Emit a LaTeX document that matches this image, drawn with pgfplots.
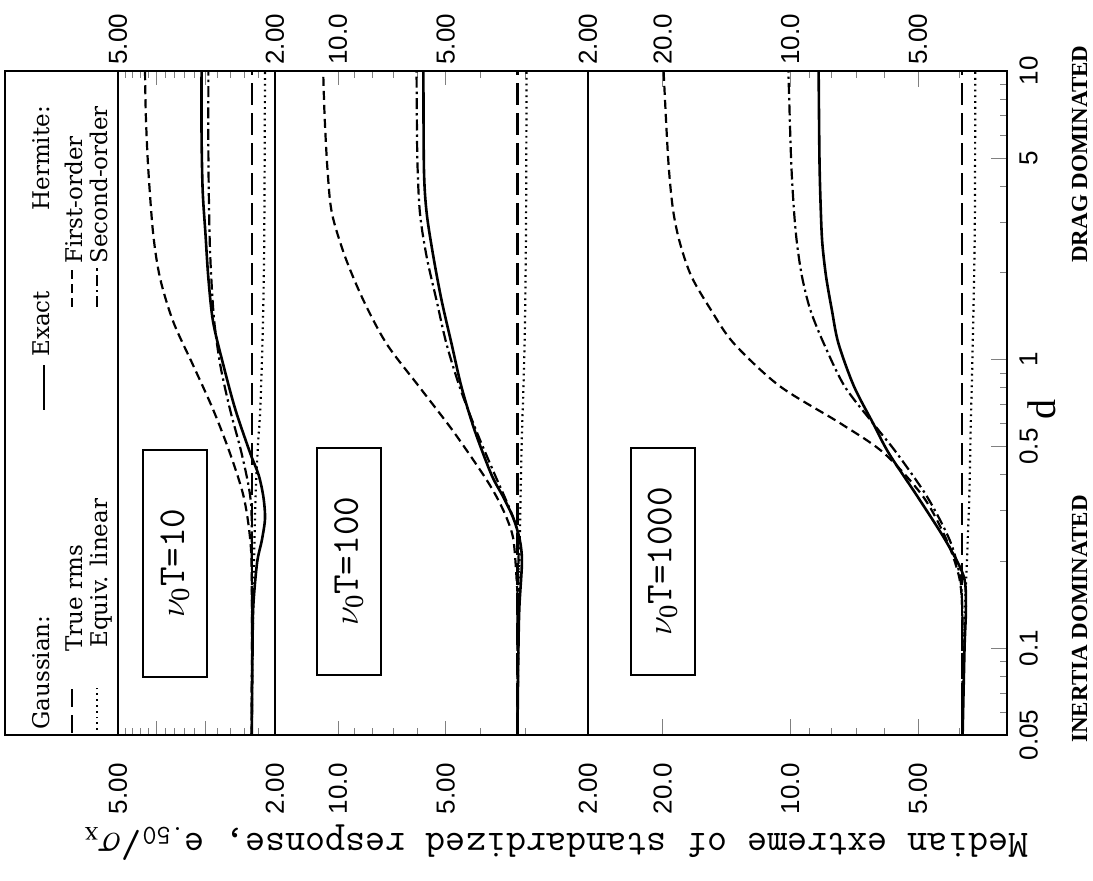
\documentclass[border=0pt]{standalone}
\usepackage{pgfplots}
\pgfplotsset{compat=1.18}
\usepackage{fontspec}
\setmainfont{Liberation Serif}
\setsansfont{Liberation Sans}
\newfontfamily\legfont{DejaVu Serif}

\tikzset{
  cExact/.style={black, line width=1.3pt},
  cTrue/.style={black, line width=1.1pt, dash pattern=on 11pt off 4pt},
  cEquiv/.style={black, line width=1.1pt, dash pattern=on 0.9pt off 2pt},
  cFirst/.style={black, line width=1.1pt, dash pattern=on 4.5pt off 2.5pt},
  cSecond/.style={black, line width=1.1pt, dash pattern=on 5.5pt off 2pt on 1.2pt off 2pt},
  cBox/.style={draw, line width=0.9pt, rotate=90, minimum width=113.5pt,
    minimum height=32pt, inner sep=0pt, font=\ttfamily\fontsize{19}{19}\selectfont},
  cLeg/.style={rotate=90, anchor=base west, inner sep=0pt,
    font=\legfont\fontsize{11.5}{11.5}\selectfont},
  cLow/.style={font=\sffamily\fontsize{13}{13}\selectfont, rotate=90, anchor=east, inner xsep=14pt},
  cUp/.style={font=\sffamily\fontsize{13}{13}\selectfont, rotate=90, anchor=west, inner xsep=3pt},
}

\begin{document}
\begin{tikzpicture}
\useasboundingbox (-59pt,-73pt) rectangle (487.5pt,367.5pt);

% nu0 T = 10
\begin{axis}[scale only axis, width=78.5pt, height=332pt, at={(39.25pt,166pt)}, anchor=center,
  xmode=log, ymode=log, x dir=reverse, xmin=2, xmax=5, ymin=0.05, ymax=10,
  axis line style={line width=1.1pt}, major tick length=7pt, minor tick length=3.5pt,
  ytick=\empty, xtick={2,3,4,5}, xticklabels={2.00,,,5.00},
  minor xtick={2.2,2.4,2.6,2.8,3.2,3.4,3.6,3.8,4.2,4.4,4.6,4.8},
  xticklabel style={cLow}]
\addplot[cExact, smooth] coordinates {(2.29,0.05) (2.28,0.1) (2.27,0.14) (2.22,0.198)
  (2.16,0.236) (2.12,0.281) (2.14,0.334) (2.20,0.398) (2.31,0.473) (2.52,0.671)
  (2.70,0.951) (2.87,1.35) (2.95,1.91) (3.0,2.71) (3.05,3.84) (3.07,6) (3.07,10)};
\addplot[cTrue] coordinates {(2.29,0.05) (2.29,10)};
\addplot[cEquiv, smooth] coordinates {(2.29,0.05) (2.28,0.1) (2.26,0.2) (2.24,0.334)
  (2.21,0.5) (2.18,0.671) (2.15,1.2) (2.13,2.5) (2.12,10)};
\addplot[cFirst, smooth] coordinates {(2.29,0.05) (2.29,0.166) (2.31,0.236) (2.40,0.334)
  (2.60,0.473) (2.87,0.671) (3.22,0.951) (3.62,1.35) (3.91,1.91) (4.07,2.71)
  (4.19,4.57) (4.25,7) (4.27,10)};
\addplot[cSecond, smooth] coordinates {(2.29,0.05) (2.29,0.236) (2.31,0.334) (2.43,0.473)
  (2.60,0.671) (2.75,0.951) (2.85,1.35) (2.90,1.91) (2.93,2.71) (2.95,5) (2.95,10)};
\node[cBox] at (axis cs:3.58,0.197) {$\nu_{\mathrm{0}}$T=10};
\end{axis}
\begin{axis}[scale only axis, width=78.5pt, height=332pt, at={(39.25pt,166pt)}, anchor=center,
  xmode=log, ymode=log, x dir=reverse, xmin=2, xmax=5, ymin=0.05, ymax=10,
  hide y axis, axis x line*=top, axis line style={draw=none}, major tick length=0pt,
  xtick={2,5}, xticklabels={2.00,5.00}, xticklabel style={cUp}]
\end{axis}

% nu0 T = 100
\begin{axis}[scale only axis, width=156.5pt, height=332pt, at={(156.75pt,166pt)}, anchor=center,
  xmode=log, ymode=log, x dir=reverse, xmin=2, xmax=15, ymin=0.05, ymax=10,
  axis line style={line width=1.1pt}, major tick length=7pt, minor tick length=3.5pt,
  ytick=\empty, xtick={2,5,10}, xticklabels={2.00,5.00,10.0},
  minor xtick={3,4,6,7,8,9}, xticklabel style={cLow}]
\addplot[cExact, smooth] coordinates {(3.15,0.05) (3.13,0.1) (3.11,0.14) (3.06,0.198)
  (3.10,0.236) (3.23,0.281) (3.45,0.334) (3.72,0.398) (4.14,0.564) (4.51,0.799)
  (4.81,1.13) (5.13,1.6) (5.41,2.27) (5.65,3.22) (5.75,4.57) (5.77,10)};
\addplot[cTrue] coordinates {(3.15,0.05) (3.15,10)};
\addplot[cEquiv, smooth] coordinates {(3.15,0.05) (3.12,0.15) (3.07,0.47) (3.03,0.8)
  (3.0,1.35) (2.98,3) (2.97,10)};
\addplot[cFirst, smooth] coordinates {(3.15,0.05) (3.15,0.14) (3.16,0.166) (3.23,0.236)
  (3.37,0.281) (3.60,0.334) (3.92,0.398) (4.76,0.564) (5.90,0.799) (7.3,1.13)
  (8.48,1.6) (9.55,2.27) (10.4,3.22) (10.7,4.57) (10.9,7) (11.0,10)};
\addplot[cSecond, smooth] coordinates {(3.15,0.05) (3.14,0.14) (3.13,0.236) (3.23,0.281)
  (3.42,0.334) (3.64,0.398) (4.10,0.564) (4.56,0.799) (4.97,1.13) (5.30,1.6)
  (5.65,2.27) (5.90,3.22) (6.0,5) (6.03,10)};
\node[cBox] at (axis cs:9.31,0.2) {$\nu_{\mathrm{0}}$T=100};
\end{axis}
\begin{axis}[scale only axis, width=156.5pt, height=332pt, at={(156.75pt,166pt)}, anchor=center,
  xmode=log, ymode=log, x dir=reverse, xmin=2, xmax=15, ymin=0.05, ymax=10,
  hide y axis, axis x line*=top, axis line style={draw=none}, major tick length=0pt,
  xtick={2,5,10}, xticklabels={2.00,5.00,10.0}, xticklabel style={cUp}]
\end{axis}

% nu0 T = 1000
\begin{axis}[scale only axis, width=209.5pt, height=332pt, at={(339.75pt,166pt)}, anchor=center,
  xmode=log, ymode=log, x dir=reverse, xmin=3.08, xmax=30, ymin=0.05, ymax=10,
  axis line style={line width=1.1pt}, major tick length=8pt, minor tick length=3.5pt,
  xtick={5,10,20}, xticklabels={5.00,10.0,20.0},
  minor xtick={4,6,7,8,9}, xticklabel style={cLow},
  ytick pos=right, ytick={0.05,0.1,0.5,1,5,10}, yticklabels={0.05,0.1,0.5,1,5,10},
  minor ytick={0.06,0.07,0.08,0.09,0.2,0.3,0.4,0.6,0.7,0.8,0.9,2,3,4,6,7,8,9},
  yticklabel style={font=\sffamily\fontsize{13}{13}\selectfont, rotate=90,
    anchor=north, inner ysep=6pt}]
\addplot[cExact, smooth] coordinates {(3.92,0.05) (3.88,0.1) (3.85,0.14) (3.90,0.178)
  (4.3,0.236) (5.0,0.334) (5.85,0.473) (6.37,0.6) (7.08,0.81) (7.70,1.14)
  (7.98,1.49) (8.23,1.94) (8.40,2.53) (8.47,3.3) (8.53,4.9) (8.57,10)};
\addplot[cTrue] coordinates {(3.93,0.05) (3.93,10)};
\addplot[cEquiv, smooth] coordinates {(3.93,0.05) (3.88,0.12) (3.83,0.2) (3.78,0.334)
  (3.75,0.6) (3.72,0.95) (3.67,2.7) (3.66,10)};
\addplot[cFirst, smooth] coordinates {(3.93,0.05) (3.93,0.1) (3.93,0.14) (4.0,0.178)
  (4.27,0.236) (4.85,0.334) (6.0,0.473) (7.6,0.6) (10.6,0.81) (13.6,1.14)
  (15.4,1.49) (17.1,1.94) (18.2,2.53) (18.9,3.3) (19.4,4.9) (19.9,10)};
\addplot[cSecond, smooth] coordinates {(3.93,0.05) (3.92,0.1) (3.93,0.14) (3.98,0.178)
  (4.2,0.236) (4.75,0.334) (5.6,0.473) (6.37,0.6) (7.45,0.81) (8.34,1.14)
  (8.97,1.49) (9.38,1.94) (9.64,2.53) (9.8,3.3) (9.95,4.9) (10.1,10)};
\node[cBox] at (axis cs:20.0,0.2) {$\nu_{\mathrm{0}}$T=1000};
\end{axis}
\begin{axis}[scale only axis, width=209.5pt, height=332pt, at={(339.75pt,166pt)}, anchor=center,
  xmode=log, ymode=log, x dir=reverse, xmin=3.08, xmax=30, ymin=0.05, ymax=10,
  hide y axis, axis x line*=top, axis line style={draw=none}, major tick length=0pt,
  xtick={5,10,20}, xticklabels={5.00,10.0,20.0}, xticklabel style={cUp}]
\end{axis}

% legend box
\draw[line width=1.1pt] (-56.5pt,0pt) rectangle (0pt,332pt);
\node[cLeg] at (-34pt,2.5pt) {Gaussian:};
\draw[cTrue, dash pattern=on 9pt off 4pt] (-23pt,1pt) -- (-23pt,23pt);
\node[cLeg] at (-17.5pt,41.5pt) {True rms};
\draw[cEquiv] (-10.5pt,2.5pt) -- (-10.5pt,24pt);
\node[cLeg] at (-5pt,43.5pt) {Equiv. linear};
\draw[cExact] (-37pt,162.5pt) -- (-37pt,185pt);
\node[cLeg] at (-34pt,189pt) {Exact};
\node[cLeg] at (-34pt,262pt) {Hermite:};
\draw[cFirst] (-23pt,214pt) -- (-23pt,234pt);
\node[cLeg] at (-17.5pt,235.5pt) {First-order};
\draw[cSecond] (-10.5pt,214pt) -- (-10.5pt,234pt);
\node[cLeg] at (-5pt,235.5pt) {Second-order};

% axis titles
\node[rotate=180, font=\ttfamily\fontsize{19.5}{19.5}\selectfont] at (219pt,-54pt)
  {Median extreme of standardized response, e\textsubscript{.50}/$\sigma_{\mathrm{x}}$};
\node[rotate=90, font=\rmfamily\fontsize{20}{20}\selectfont] at (462pt,162.5pt) {d};
\node[rotate=90, anchor=base west, inner sep=0pt,
  font=\rmfamily\bfseries\fontsize{11.5}{11.5}\selectfont] at (484.5pt,-4pt) {INERTIA DOMINATED};
\node[rotate=90, anchor=base east, inner sep=0pt,
  font=\rmfamily\bfseries\fontsize{11.5}{11.5}\selectfont] at (484.5pt,345pt) {DRAG DOMINATED};
\end{tikzpicture}
\end{document}
